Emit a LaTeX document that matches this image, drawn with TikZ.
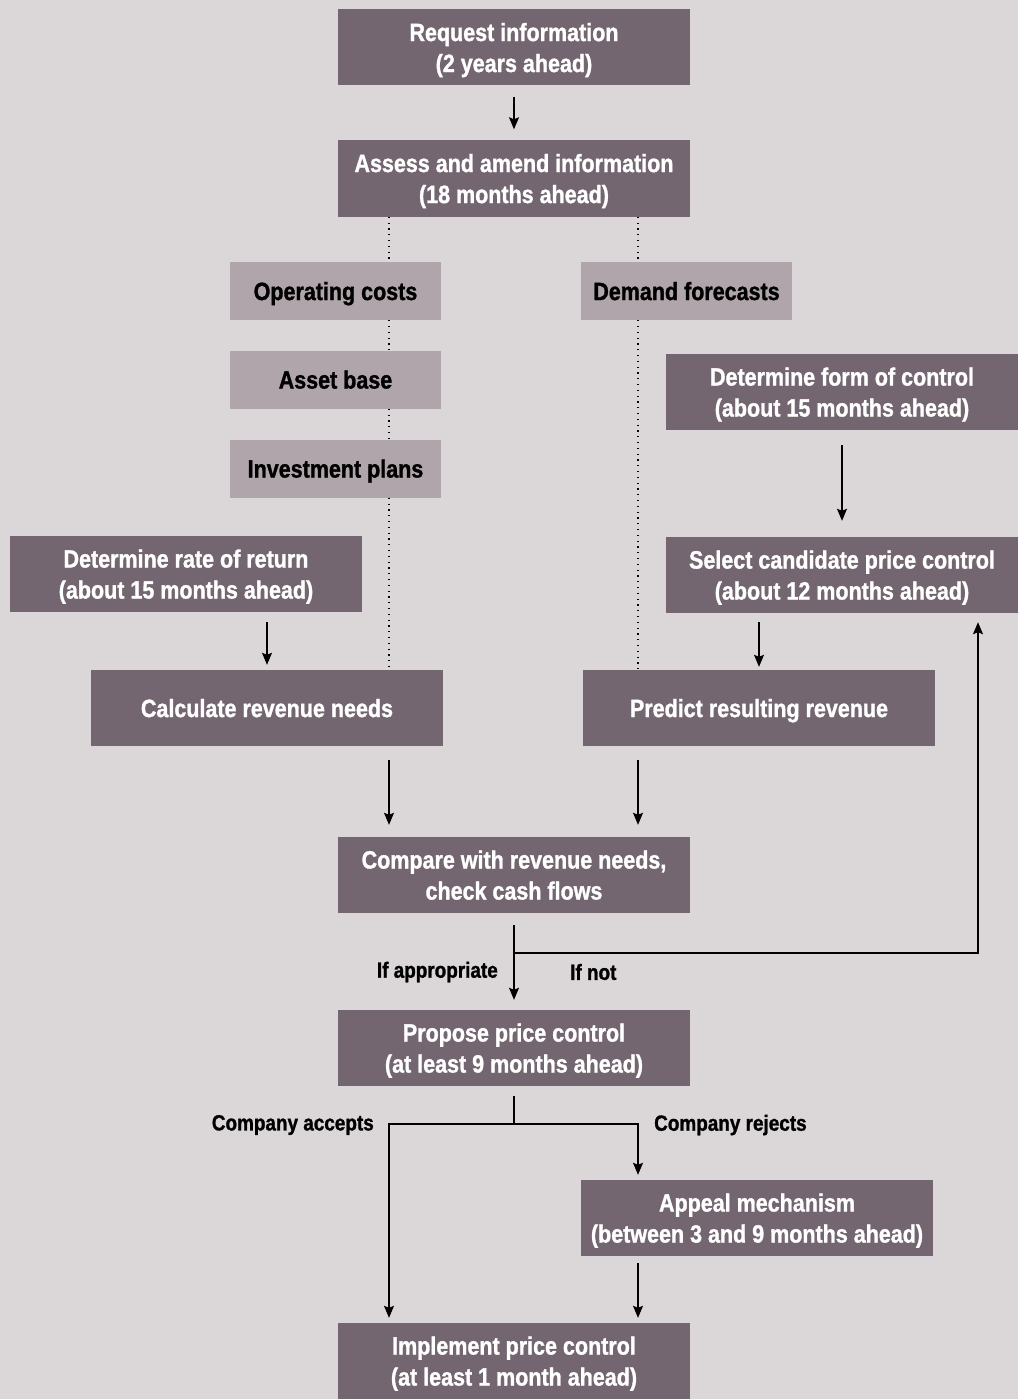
\documentclass[tikz,border=0pt]{standalone}
\usepackage{fontspec}
\setmainfont[FakeStretch=0.86, BoldFeatures={FakeBold=1.2}]{Liberation Sans}
\usetikzlibrary{arrows.meta,calc}
\definecolor{bg}{HTML}{DBD6D8}
\definecolor{darkbox}{HTML}{736670}
\definecolor{lightbox}{HTML}{B0A5AA}
\tikzset{
  dbox/.style={fill=darkbox, text=white, minimum width=352pt, minimum height=76pt, inner sep=0pt, text depth=0pt, align=center, font=\bfseries\fontsize{25}{31}\selectfont},
  lbox/.style={fill=lightbox, text=black, minimum width=211pt, minimum height=58pt, inner sep=0pt, text depth=0pt, align=center, font=\bfseries\fontsize{25}{31}\selectfont},
  lab/.style={text=black, inner sep=0pt, font=\bfseries\fontsize{22}{26}\selectfont},
  arr/.style={line width=1.2pt, -{Stealth[length=12pt,width=10pt,inset=2pt]}},
  ln/.style={line width=1.2pt},
  dots/.style={line width=1.2pt, dash pattern=on 1.2pt off 4.6pt}
}
\begin{document}
\begin{tikzpicture}[x=1pt,y=-1pt]
\fill[bg] (0,0) rectangle (1018,1399);
\useasboundingbox (0,0) rectangle (1018,1399);
\coordinate (xl) at (389,0);
\coordinate (xr) at (638,0);
\coordinate (xfb) at (978,0);
\coordinate (j1) at (514,953);
\coordinate (j2) at (514,1124);

\node[dbox] (req) at (514,47.5) {Request information\\(2 years ahead)};
\node[dbox] (ass) at (514,178.5) {Assess and amend information\\(18 months ahead)};
\node[lbox] (opc) at (335.5,291) {Operating costs};
\node[lbox] (dem) at (686.5,291) {Demand forecasts};
\node[lbox] (ast) at (335.5,379.5) {Asset base};
\node[lbox] (inv) at (335.5,468.5) {Investment plans};
\node[dbox] (frm) at (842,392) {Determine form of control\\(about 15 months ahead)};
\node[dbox] (ror) at (186,574) {Determine rate of return\\(about 15 months ahead)};
\node[dbox] (sel) at (842,575) {Select candidate price control\\(about 12 months ahead)};
\node[dbox] (calc) at (267,708) {Calculate revenue needs};
\node[dbox] (pred) at (759,708) {Predict resulting revenue};
\node[dbox] (cmp) at (514,875) {Compare with revenue needs,\\check cash flows};
\node[dbox] (prop) at (514,1048) {Propose price control\\(at least 9 months ahead)};
\node[dbox] (app) at (757,1218) {Appeal mechanism\\(between 3 and 9 months ahead)};
\node[dbox] (impl) at (514,1361) {Implement price control\\(at least 1 month ahead)};

% dotted lines
\draw[dots] (ass.south -| xl) -- (opc.north -| xl);
\draw[dots] (opc.south -| xl) -- (ast.north -| xl);
\draw[dots] (ast.south -| xl) -- (inv.north -| xl);
\draw[dots] (inv.south -| xl) -- (calc.north -| xl);
\draw[dots] (ass.south -| xr) -- (dem.north -| xr);
\draw[dots] (dem.south -| xr) -- (pred.north -| xr);

% arrows
\draw[arr] ([yshift=-11pt]req.south) -- ([yshift=11pt]ass.north);
\draw[arr] ([yshift=-15pt]frm.south) -- ([yshift=16pt]sel.north);
\draw[arr] ([yshift=-10pt]ror.south -| calc.north) -- ([yshift=5pt]calc.north);
\draw[arr] ([yshift=-9pt]sel.south -| pred.north) -- ([yshift=3pt]pred.north);
\draw[arr] ([yshift=-14pt]calc.south -| xl) -- ([yshift=12pt]cmp.north -| xl);
\draw[arr] ([yshift=-14pt]pred.south -| xr) -- ([yshift=12pt]cmp.north -| xr);
\draw[arr] ([yshift=-12pt]cmp.south) -- ([yshift=10pt]prop.north);
\draw[arr] (j1) -| ([yshift=-9pt]sel.south -| xfb);
\draw[ln] ([yshift=-10pt]prop.south) -- (j2);
\draw[arr] (j2) -| ([yshift=5pt]impl.north -| xl);
\draw[arr] (j2) -| ([yshift=5pt]app.north -| xr);
\draw[arr] ([yshift=-7pt]app.south -| xr) -- ([yshift=5pt]impl.north -| xr);

% labels
\node[lab, anchor=east] (lapp) at (498,972) {If appropriate};
\node[lab, anchor=west] (lnot) at (570,972) {If not};
\node[lab, anchor=east] (lacc) at (374,1125) {Company accepts};
\node[lab, anchor=west] (lrej) at (654,1125) {Company rejects};
\end{tikzpicture}
\end{document}
